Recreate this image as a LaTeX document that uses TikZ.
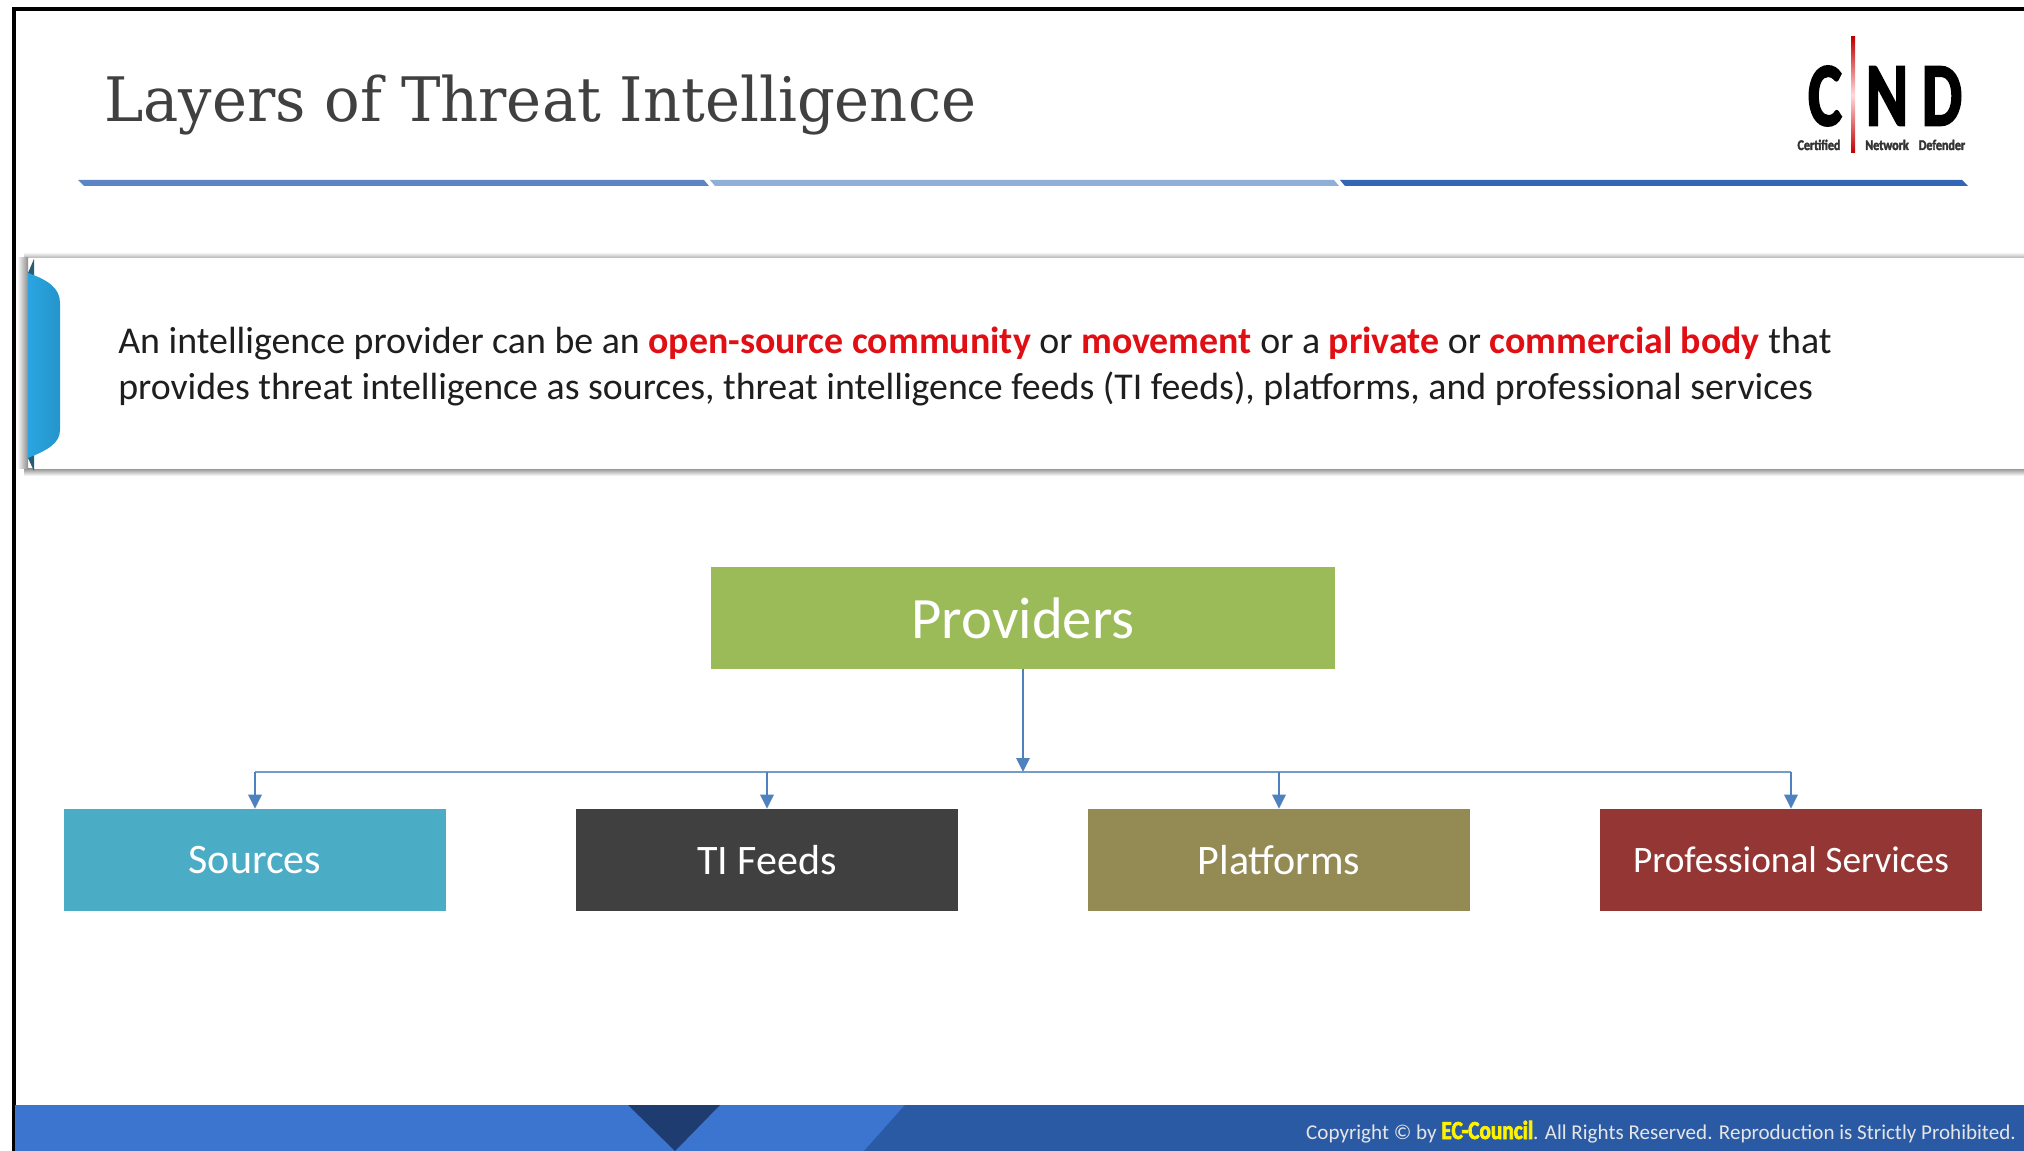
\documentclass[tikz,border=0pt]{standalone}
\usepackage{fontspec}
\setmainfont{Carlito}
\newfontfamily\titlefont{DejaVu Serif}
\newfontfamily\logofont[FakeBold=2.5,FakeStretch=0.82]{Carlito}
\usetikzlibrary{arrows.meta}
\definecolor{rulea}{RGB}{91,133,196}
\definecolor{ruleb}{RGB}{143,175,216}
\definecolor{rulec}{RGB}{53,101,181}
\definecolor{barblue}{RGB}{59,117,208}
\definecolor{bardark}{RGB}{43,90,165}
\definecolor{bartip}{RGB}{30,60,112}
\definecolor{tabblue}{RGB}{42,165,225}
\definecolor{tabdark}{RGB}{38,92,118}
\definecolor{flowblue}{RGB}{79,129,189}
\definecolor{flowpale}{RGB}{118,155,200}
\definecolor{hired}{RGB}{225,15,20}
\definecolor{bodyink}{RGB}{30,30,30}
\tikzset{
  boxtop/.style={fill={rgb, 255:red, 155; green, 187; blue, 89},text=white,minimum width=468pt,minimum height=76.5pt,font=\fontsize{44}{44}\selectfont},
  boxsub/.style={text=white,minimum width=286pt,minimum height=76.5pt,font=\fontsize{31.5}{31.5}\selectfont},
  flowline/.style={draw=flowblue,line width=1.3pt},
  flowarrow/.style={flowline,-{Triangle[length=10.5pt,width=10pt]}},
  logoletter/.style={inner sep=0pt,font=\logofont\bfseries\fontsize{46}{46}\selectfont,xscale=1.26,yscale=1.47},
  logosmall/.style={inner sep=0pt,font=\logofont\bfseries\fontsize{11}{11}\selectfont,text=black!80},
}
\begin{document}
\begin{tikzpicture}[x=0.75pt,y=0.75pt,yscale=-1,xscale=1]
\useasboundingbox (0,0) rectangle (2024,1151);

%Shape: Frame
\draw [line width=2.6pt] (14,1151) -- (14,9) -- (2024,9) ;

% Text Node
\node (title) [anchor=base west,inner sep=0pt,text=black!75,xscale=0.965,font=\titlefont\fontsize{46}{46}\selectfont] at (104,122) {Layers of Threat Intelligence};

%Shape: Rule
\fill [rulea] (78,180) -- (704,180) -- (709,186) -- (84,186) -- cycle ;
\fill [ruleb] (710,180) -- (1334,180) -- (1339,186) -- (715,186) -- cycle ;
\fill [rulec] (1340,180) -- (1962,180) -- (1968,186) -- (1345,186) -- cycle ;

%Shape: Logo
\node (logoc) [logoletter] at (1825,96) {C};
\node (logon) [logoletter] at (1887,96) {N};
\node (logod) [logoletter] at (1942,96) {D};
\fill [top color=red!75!black,bottom color=red!75!black,middle color=red!15] (1851,37) rectangle (1855,153) ;
\node (logoa) [logosmall,anchor=base] at (1819,150) {Certified};
\node (logob) [logosmall,anchor=base] at (1887,150) {Network};
\node (logoe) [logosmall,anchor=base] at (1942,150) {Defender};

%Shape: Callout shadow
\shade [top color=white,bottom color=black!30] (24,252) rectangle (2024,258) ;
\shade [top color=black!40,bottom color=white] (24,469) rectangle (2024,476) ;
\shade [left color=white,right color=black!45] (17,258) rectangle (28,469) ;
\fill [white] (34,258) rectangle (2024,469) ;

%Shape: Callout tab
\fill [tabdark] (28,273) -- (34,259) -- (34,471) -- (28,458) -- cycle ;
\shade [left color=tabblue,right color=tabblue!90!black] (28,273) .. controls (48,280) and (60,288) .. (60,303) -- (60,430) .. controls (60,443) and (48,450) .. (28,458) -- cycle ;

% Text Node
\node (intro) [anchor=north west,inner sep=0pt,align=left,text=bodyink,font=\fontsize{28.4}{34.5}\selectfont] at (118,327) {An intelligence provider can be an {\color{hired}\bfseries open-source community} or {\color{hired}\bfseries movement} or a {\color{hired}\bfseries private} or {\color{hired}\bfseries commercial body} that\\provides threat intelligence as sources, threat intelligence feeds (TI feeds), platforms, and professional services};

%Shape: Boxes
\node (providers) [boxtop] at (1023,618) {Providers};
\node (sources) [boxsub,fill={rgb, 255:red, 75; green, 172; blue, 198}] at (255,860) {Sources};
\node (tifeeds) [boxsub,fill={rgb, 255:red, 64; green, 64; blue, 64}] at (767,860) {TI Feeds};
\node (platforms) [boxsub,fill={rgb, 255:red, 148; green, 138; blue, 84}] at (1279,860) {Platforms};
\node (services) [boxsub,fill={rgb, 255:red, 148; green, 54; blue, 52},font=\fontsize{28}{28}\selectfont] at (1791,860) {Professional Services};

%Straight Lines
\coordinate (busmid) at (providers.south |- 0,772);
\coordinate (busleft) at (sources.north |- busmid);
\coordinate (busb) at (tifeeds.north |- busmid);
\coordinate (busc) at (platforms.north |- busmid);
\coordinate (busright) at (services.north |- busmid);
\draw [flowline,draw=flowpale,line width=1.6pt] (busleft) -- (busright) ;
\draw [flowarrow] (providers) -- (busmid) ;
\draw [flowarrow] (busleft) -- (sources) ;
\draw [flowarrow] (busb) -- (tifeeds) ;
\draw [flowarrow] (busc) -- (platforms) ;
\draw [flowarrow] (busright) -- (services) ;

%Shape: Footer
\fill [barblue] (15,1105) rectangle (2024,1151) ;
\fill [bardark] (905,1105) -- (2024,1105) -- (2024,1151) -- (864,1151) -- cycle ;
\fill [bartip] (628,1105) -- (720,1105) -- (675,1151) -- cycle ;

% Text Node
\node (copyright) [anchor=base east,inner sep=0pt,text=white!90!black,font=\fontsize{15.8}{16}\selectfont] at (2016,1139) {Copyright © by {\color{yellow}\logofont\bfseries\fontsize{19.5}{16}\selectfont EC-Council}. All Rights Reserved. Reproduction is Strictly Prohibited.};

\end{tikzpicture}
\end{document}
